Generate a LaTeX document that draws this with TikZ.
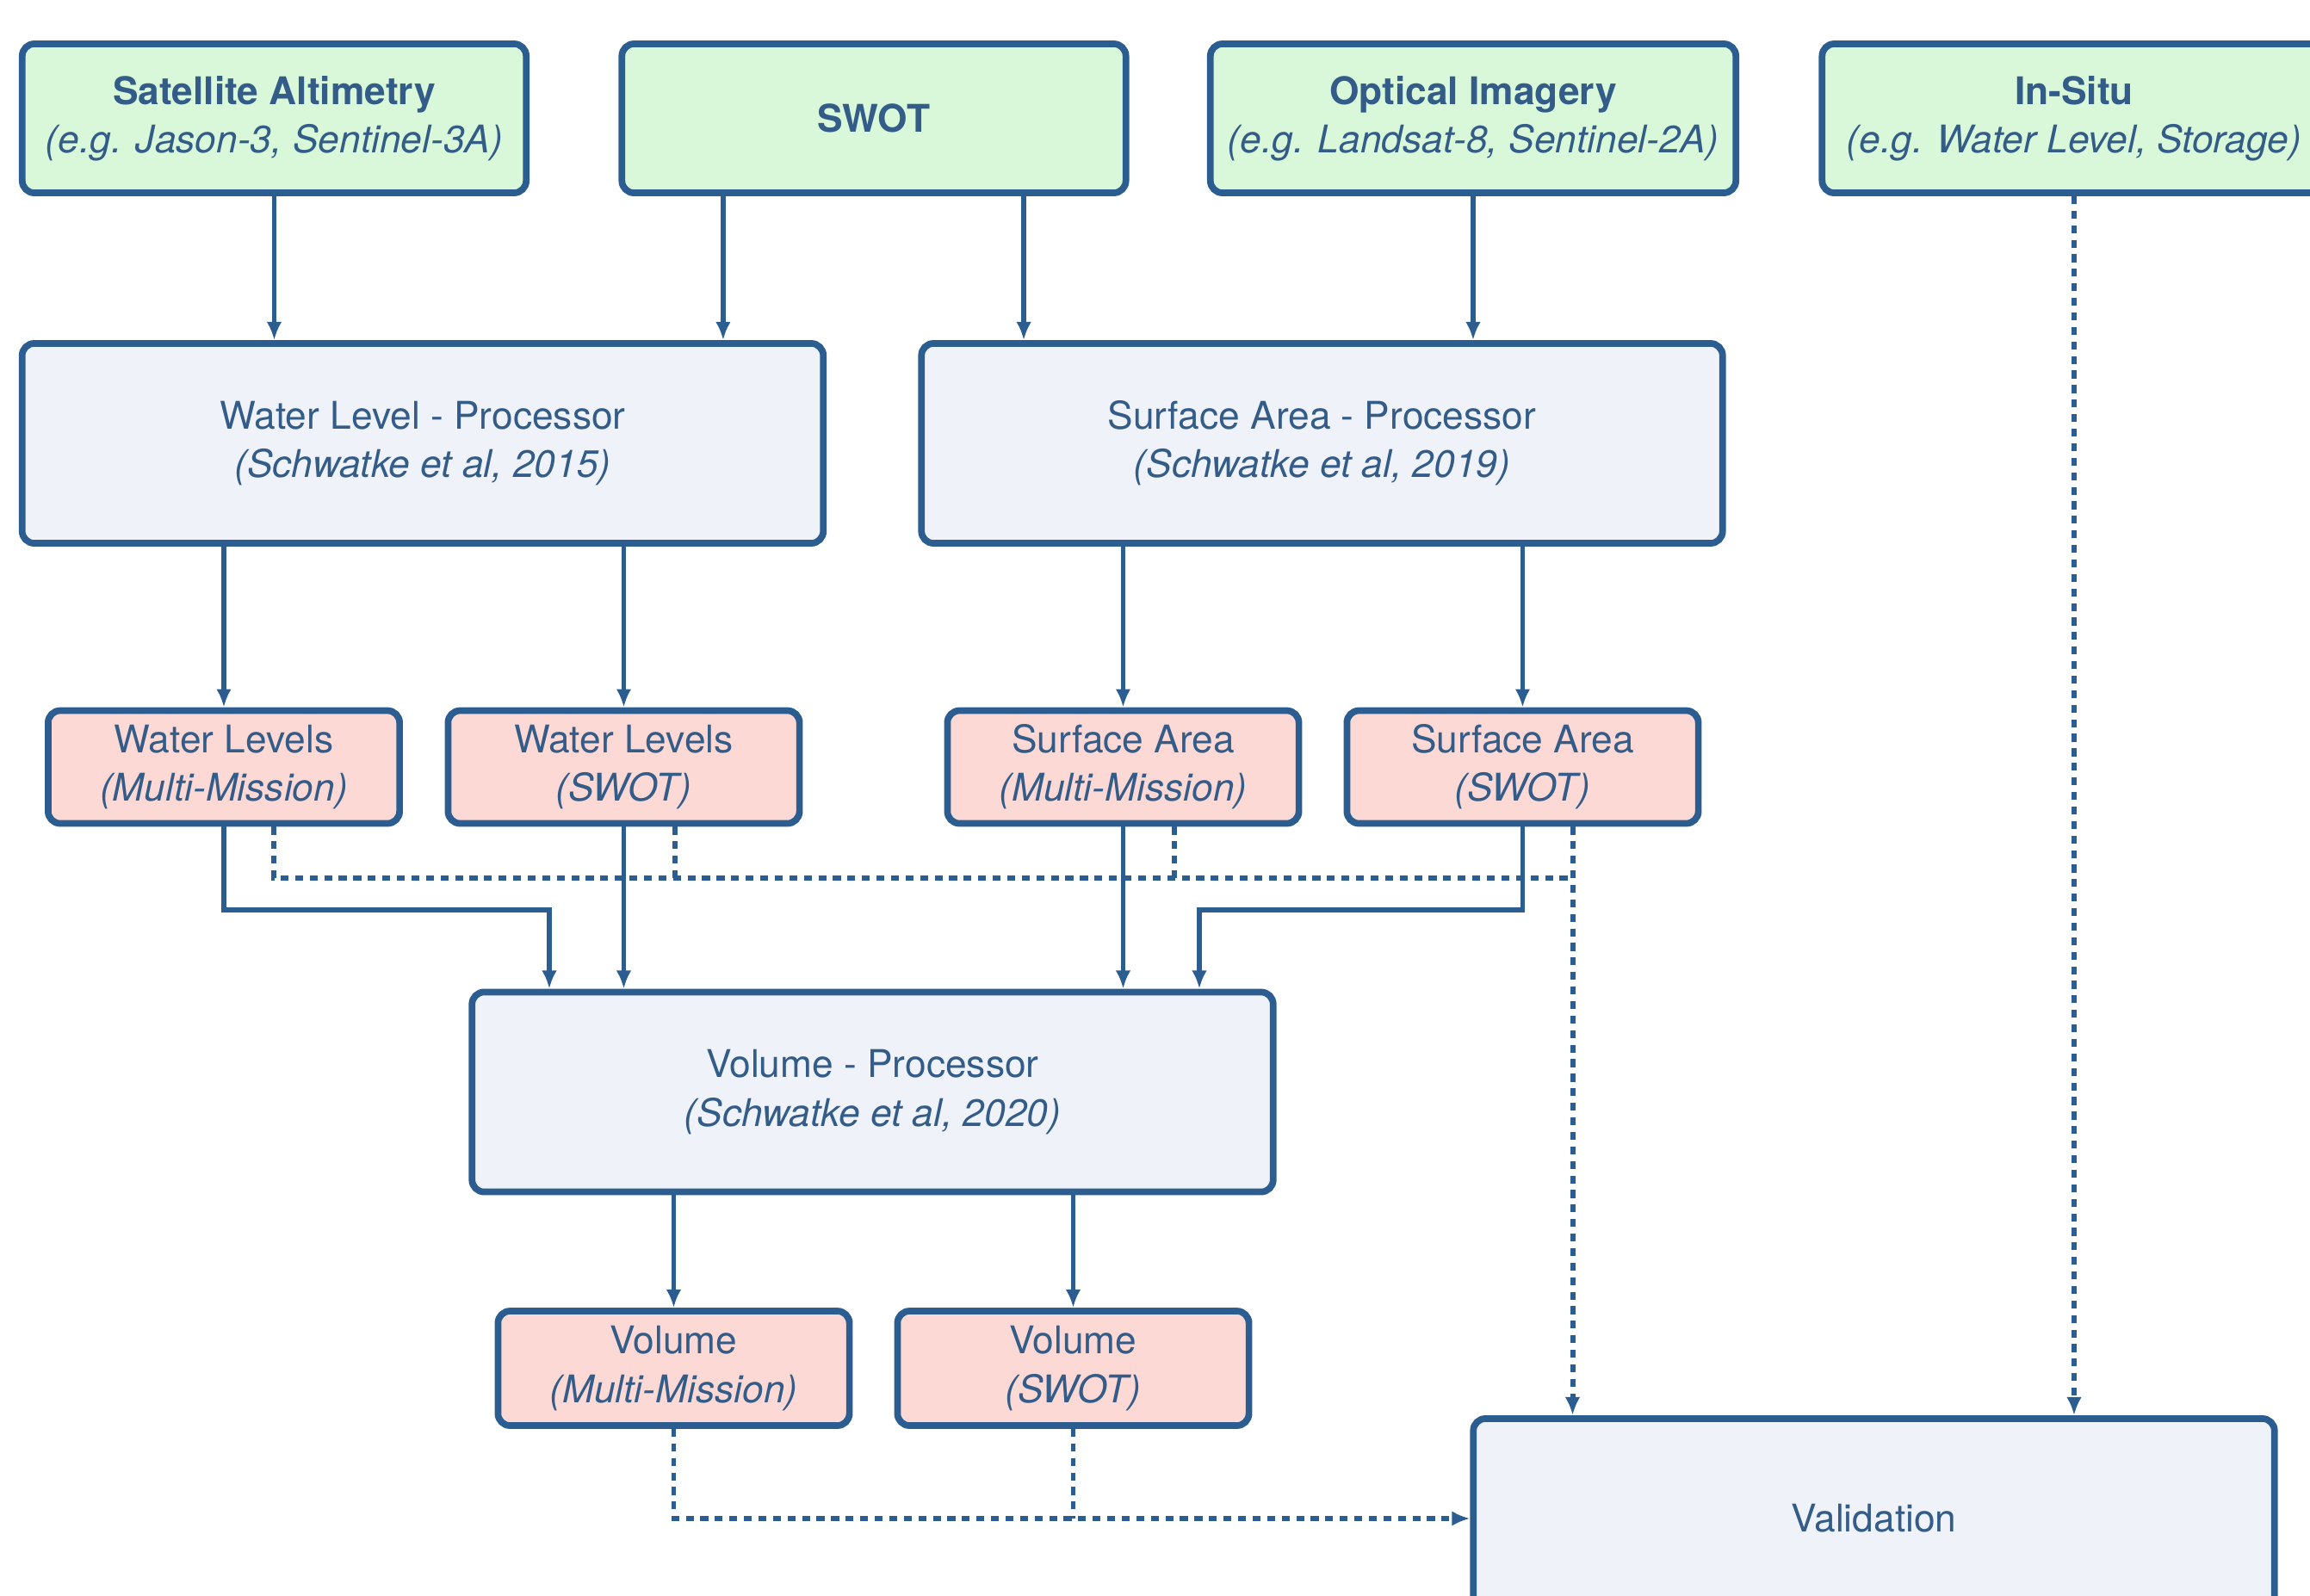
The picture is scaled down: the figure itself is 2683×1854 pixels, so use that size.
\documentclass[tikz,border=0pt]{standalone}
\usepackage{fontspec}
\setmainfont{TeX Gyre Heros}
\usepackage{tikz}
\usetikzlibrary{positioning,arrows.meta,calc}

\definecolor{edgeblue}{HTML}{2B5D91}
\definecolor{txtblue}{HTML}{335C88}
\definecolor{srcgreen}{HTML}{D9F8D9}
\definecolor{prodpink}{HTML}{FDD9D6}
\definecolor{procgray}{HTML}{EFF3F9}

\begin{document}
\begin{tikzpicture}[x=0.01cm, y=-0.01cm, font=\fontsize{12.6}{16}\selectfont, text=txtblue]
  \tikzstyle{box}=[rounded corners=4pt,draw=edgeblue,line width=2.2pt,align=center,inner sep=2pt]
  \tikzstyle{src}=[box,fill=srcgreen,minimum width=5.85cm,minimum height=1.73cm]
  \tikzstyle{proc}=[box,fill=procgray,minimum width=9.3cm,minimum height=2.32cm]
  \tikzstyle{prod}=[box,fill=prodpink,minimum width=4.08cm,minimum height=1.31cm]
  \tikzstyle{conn}=[draw=edgeblue,line width=1.5pt,-{Latex[length=6pt,width=5pt]}]
  \tikzstyle{dconn}=[conn,line width=1.7pt,dash pattern=on 2.6pt off 2.2pt]
  \useasboundingbox[fill=white] (0,0) rectangle (2683,1854);

  % data sources
  \node[src] (SatAlt) at (318.5,137.5) {\textbf{Satellite Altimetry}\\ \textit{(e.g. Jason-3, Sentinel-3A)}};
  \node[src] (SWOT) at (1015,137.5) {\textbf{SWOT}};
  \node[src,minimum width=6.1cm] (Optical) at (1711,137.5) {\textbf{Optical Imagery}\\ \textit{(e.g. Landsat-8, Sentinel-2A)}};
  \node[src] (InSitu) at (2409,137.5) {\textbf{In-Situ}\\ \textit{(e.g. Water Level, Storage)}};

  % processors
  \node[proc] (WLP) at (491,515) {Water Level - Processor\\ \textit{(Schwatke et al, 2015)}};
  \node[proc] (SAP) at (1535.5,515) {Surface Area - Processor\\ \textit{(Schwatke et al, 2019)}};

  % products
  \node[prod] (WLMM) at (260,891) {Water Levels\\ \textit{(Multi-Mission)}};
  \node[prod] (WLSW) at (724.5,891) {Water Levels\\ \textit{(SWOT)}};
  \node[prod] (SAMM) at (1304.5,891) {Surface Area\\ \textit{(Multi-Mission)}};
  \node[prod] (SASW) at (1768.5,891) {Surface Area\\ \textit{(SWOT)}};

  \node[proc] (VP) at (1013.5,1268.5) {Volume - Processor\\ \textit{(Schwatke et al, 2020)}};
  \node[prod,minimum height=1.33cm] (VolMM) at (782.5,1589.5) {Volume\\ \textit{(Multi-Mission)}};
  \node[prod,minimum height=1.33cm] (VolSW) at (1246.5,1589.5) {Volume\\ \textit{(SWOT)}};

  \node[proc] (Val) at (2176.5,1764) {Validation};

  % bends and bus
  \coordinate (wlbend) at (638,1057);
  \coordinate (sabend) at (1393,1057);
  \coordinate (bus) at (1827,1020);

  % sources -> processors
  \draw[conn] (SatAlt.south) -- (SatAlt.south |- WLP.north);
  \draw[conn] ([xshift=-1.75cm]SWOT.south) -- ([xshift=-1.75cm]SWOT.south |- WLP.north);
  \draw[conn] ([xshift=1.74cm]SWOT.south) -- ([xshift=1.74cm]SWOT.south |- SAP.north);
  \draw[conn] (Optical.south) -- (Optical.south |- SAP.north);

  % processors -> products
  \draw[conn] (WLP.south -| WLMM.north) -- (WLMM.north);
  \draw[conn] (WLP.south -| WLSW.north) -- (WLSW.north);
  \draw[conn] (SAP.south -| SAMM.north) -- (SAMM.north);
  \draw[conn] (SAP.south -| SASW.north) -- (SASW.north);

  % products -> volume
  \draw[conn] (WLMM.south) |- (wlbend) -- (wlbend |- VP.north);
  \draw[conn] (WLSW.south) -- (WLSW.south |- VP.north);
  \draw[conn] (SAMM.south) -- (SAMM.south |- VP.north);
  \draw[conn] (SASW.south) |- (sabend) -- (sabend |- VP.north);

  \draw[conn] (VP.south -| VolMM.north) -- (VolMM.north);
  \draw[conn] (VP.south -| VolSW.north) -- (VolSW.north);

  % validation links
  \draw[dconn,-] ([xshift=0.58cm]WLMM.south) |- (bus);
  \draw[dconn,-] ([xshift=0.59cm]WLSW.south) -- ([xshift=0.59cm]WLSW.south |- bus);
  \draw[dconn,-] ([xshift=0.59cm]SAMM.south) -- ([xshift=0.59cm]SAMM.south |- bus);
  \draw[dconn] ([xshift=0.58cm]SASW.south) -- ([xshift=0.58cm]SASW.south |- Val.north);
  \draw[dconn] (InSitu.south) -- (InSitu.south |- Val.north);
  \draw[dconn] (VolMM.south) |- (Val.west);
  \draw[dconn,-] (VolSW.south) -- (VolSW.south |- Val.west);
\end{tikzpicture}
\end{document}
